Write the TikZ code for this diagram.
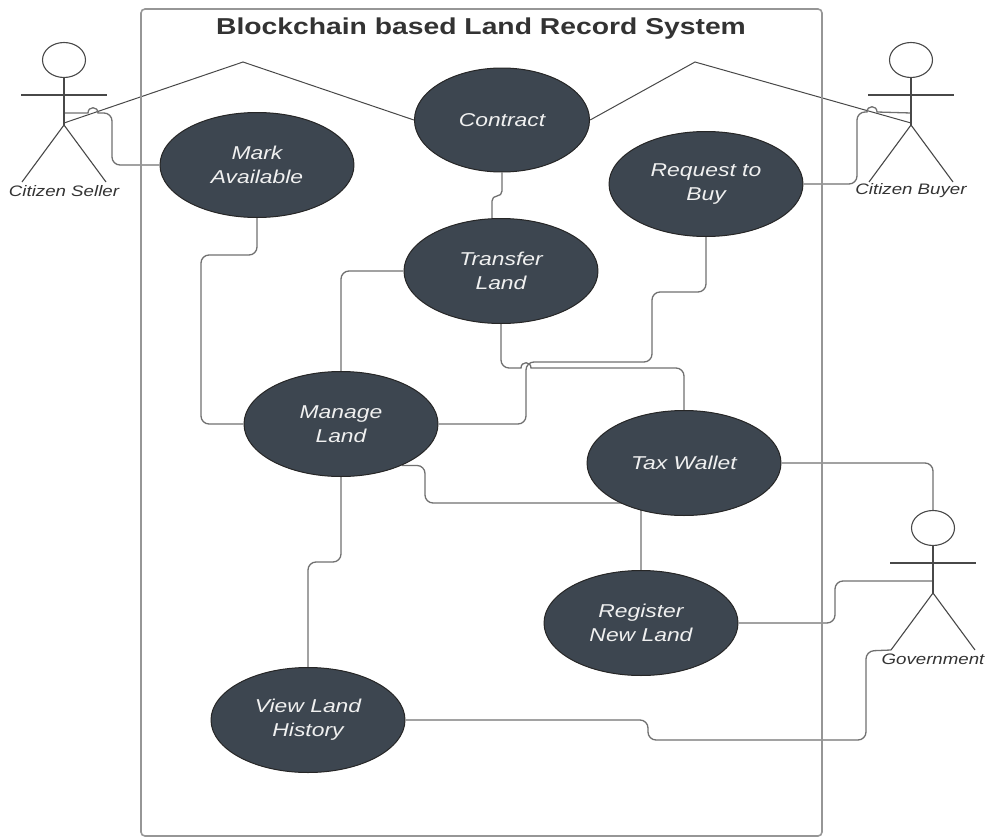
\documentclass[tikz,border=0pt]{standalone}
\usepackage{fontspec}
\setmainfont{Liberation Sans}
\usepackage{tikz}
\usetikzlibrary{shapes.geometric}
\usetikzlibrary{backgrounds}
\definecolor{casefill}{RGB}{61,70,80}
\definecolor{lineg}{RGB}{112,112,112}
\definecolor{actorg}{RGB}{72,72,72}
\definecolor{frameg}{RGB}{150,150,150}
\tikzstyle{usecase}=[ellipse, draw=black!85, line width=1pt, fill=casefill, text=white!94!black, minimum width=157.7pt, minimum height=105pt, inner sep=0pt, align=center, xscale=1.23, transform shape, font=\fontsize{18.6}{24}\selectfont\itshape]
\tikzstyle{actorname}=[inner sep=0pt, text=black!80, xscale=1.23, transform shape, font=\fontsize{15.2}{18}\selectfont\itshape]
\tikzstyle{head}=[ellipse, draw=actorg, line width=1.1pt, fill=white, minimum width=43pt, minimum height=35pt, inner sep=0pt]
\tikzstyle{stick}=[draw=actorg, line width=1.1pt]
\tikzstyle{assoc}=[draw=actorg, line width=1pt]
\tikzstyle{link}=[draw=lineg, line width=1.3pt, rounded corners=8pt]
\tikzstyle{boundary}=[draw=frameg, line width=1.6pt, rounded corners=4pt]

\begin{document}
\begin{tikzpicture}[x=1pt, y=-1pt]
        \useasboundingbox (0,0) rectangle (989,838);
        % system boundary and title
        \node[boundary, minimum width=681pt, minimum height=827pt] at (481.5,422.5) (system) {};
        \node[inner sep=0pt, text=black!80, xscale=1.23, transform shape, font=\fontsize{23}{28}\selectfont\bfseries] at (481,29) (title) {Blockchain based Land Record System};
        % use cases
        \node[usecase, minimum width=142.3pt, minimum height=104pt] at (502,120) (contract) {Contract};
        \node[usecase] at (257,165) (mark) {Mark\\Available};
        \node[usecase] at (706,184) (request) {Request to\\Buy};
        \node[usecase] at (501,271) (transfer) {Transfer\\Land};
        \node[usecase] at (341,424) (manage) {Manage\\Land};
        \node[usecase] at (684,463) (tax) {Tax Wallet};
        \node[usecase] at (641,623) (register) {Register\\New Land};
        \node[usecase] at (308,720) (view) {View Land\\History};
        % actors
        \foreach \who/\hx/\hy/\lbl in {seller/64/60/Citizen Seller, buyer/911/60/Citizen Buyer, gov/933/528/Government} {
          \node[head] at (\hx,\hy) (\who-head) {};
          \draw[stick] (\who-head.south) -- (\hx,\hy+65);
          \draw[stick] (\hx-43,\hy+35) -- (\hx+43,\hy+35);
          \draw[stick] (\hx-42,\hy+122) -- (\hx,\hy+65) -- (\hx+42,\hy+122);
          \coordinate (\who-arm) at (\hx,\hy+53);
          \coordinate (\who-hip) at (\hx,\hy+63);
          \coordinate (\who-foot) at (\hx-42,\hy+122);
          \node[actorname] at (\hx,\hy+131) (\who-name) {\lbl};
        }
        % connectors (line hops where they cross)
        \begin{scope}[on background layer]
          \draw[assoc] (seller-hip) -- (243,62) -- (contract.west);
          \draw[assoc] (contract.east) -- (695,62) -- (buyer-hip);
          \draw[link] (seller-arm) [sharp corners] -- (88,113) .. controls (88,106) and (98,106) .. (98,113) [rounded corners=8pt] -- (112,113) |- (mark.west);
          \draw[link] (request.east) -| (857,112) [sharp corners] -- (867,112) .. controls (867,105) and (877,105) .. (877,112) -- (buyer-arm);
          \draw[link, rounded corners=5pt] (contract.south) |- (492,196) -- (transfer.north -| 492,0);
          \draw[link] (transfer.west) -| (manage.north);
          \draw[link] (mark.south) |- (201,255) |- (manage.west);
          \draw[link] (request.south) |- (652,292) |- (526,362) |- (manage.east);
          \draw[link] (transfer.south) -- (501,368) [sharp corners] -- (521,368) .. controls (521,361) and (531,361) .. (531,368) [rounded corners=8pt] -| (tax.north);
          \draw[link] (manage.-40) -| (425,503) -| (register.north);
          \draw[link] (manage.south) |- (308,562) -- (view.north);
          \draw[link] (view.east) -| (648,740) -| (866,651) -- (gov-foot);
          \draw[link] (register.east) -| (835,581) -- (gov-arm);
          \draw[link] (tax.east) -| (gov-head.north);
        \end{scope}
      \end{tikzpicture}
\end{document}
